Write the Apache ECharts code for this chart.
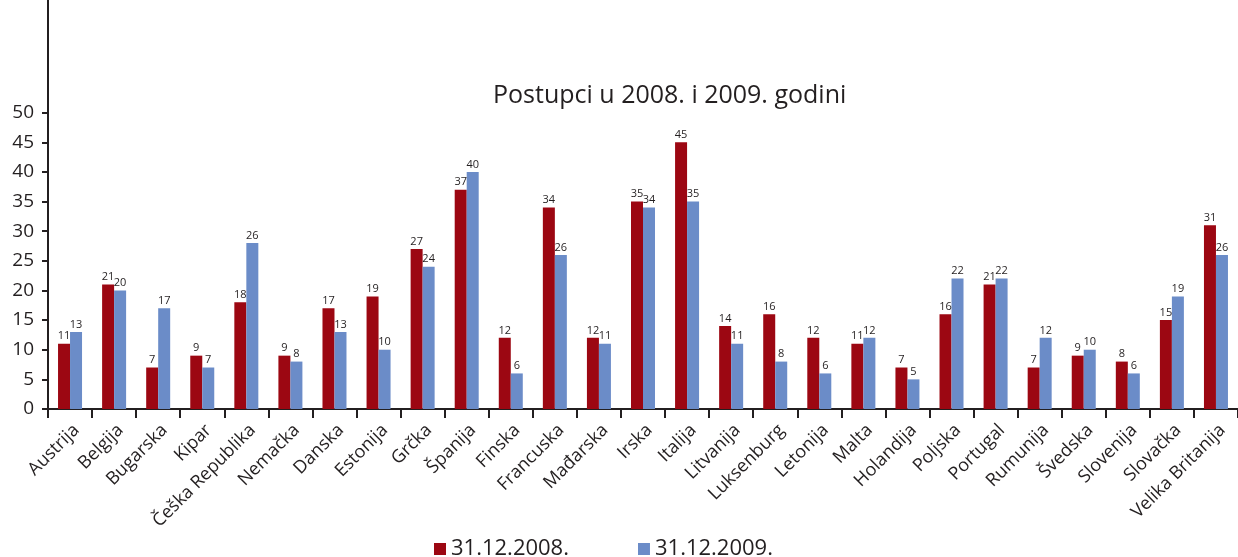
<!DOCTYPE html>
<html>
<head>
<meta charset="utf-8">
<script src="https://cdn.jsdelivr.net/npm/echarts@6/dist/echarts.min.js"></script>
<style>html,body{margin:0;padding:0;background:#fff}#c{width:1238px;height:557px}</style>
</head>
<body>
<div id="c"></div>
<script>
const categories = ['Austrija','Belgija','Bugarska','Kipar','Češka Republika','Nemačka','Danska','Estonija','Grčka','Španija','Finska','Francuska','Mađarska','Irska','Italija','Litvanija','Luksenburg','Letonija','Malta','Holandija','Poljska','Portugal','Rumunija','Švedska','Slovenija','Slovačka','Velika Britanija'];
const values2008 = [11,21,7,9,18,9,17,19,27,37,12,34,12,35,45,14,16,12,11,7,16,21,7,9,8,15,31];
const values2009 = [13,20,17,7,28,8,13,10,24,40,6,26,11,34,35,11,8,6,12,5,22,22,12,10,6,19,26];
const labels2009 = [13,20,17,7,26,8,13,10,24,40,6,26,11,34,35,11,8,6,12,5,22,22,12,10,6,19,26];
const yTicks = [0,5,10,15,20,25,30,35,40,45,50];
const seriesNames = ['31.12.2008.','31.12.2009.'];

const FONT = 'Open Sans';
const TXT = '#231f20';
const chart = echarts.init(document.getElementById('c'), null, {renderer:'canvas'});
chart.setOption({
  animation:false,
  title:{text:'Postupci u 2008. i 2009. godini', left:488, top:78, textStyle:{fontFamily:FONT,fontSize:25,fontWeight:'normal',color:TXT}},
  legend:{top:533, left:429, itemWidth:12, itemHeight:12, itemGap:69, icon:'rect',
    textStyle:{fontFamily:FONT,fontSize:22,color:TXT}, data:seriesNames},
  grid:{left:48, right:0, top:0, bottom:148, containLabel:false},
  xAxis:{type:'category', data:categories,
    axisLine:{lineStyle:{color:TXT,width:2}},
    axisTick:{show:true, length:9, lineStyle:{color:TXT,width:2}},
    axisLabel:{rotate:45, interval:0, fontFamily:FONT, fontSize:18, color:TXT, margin:12, verticalAlign:'top'}},
  yAxis:{type:'value', min:0, max:69,
    splitLine:{show:false},
    axisLine:{show:true, lineStyle:{color:TXT,width:2}},
    axisTick:{show:true, length:6, lineStyle:{color:TXT,width:2}, customValues:yTicks},
    axisLabel:{fontFamily:FONT, fontSize:19, color:TXT, margin:14, customValues:yTicks}},
  series:[
    {name:seriesNames[0], type:'bar', data:values2008, barWidth:12, barGap:'0%',
      itemStyle:{color:'#9c0712'},
      label:{show:true, position:'top', distance:2, fontFamily:FONT, fontSize:11, color:TXT}},
    {name:seriesNames[1], type:'bar', data:values2009, barWidth:12, barGap:'0%',
      itemStyle:{color:'#6b8cc8'},
      label:{show:true, position:'top', distance:2, fontFamily:FONT, fontSize:11, color:TXT,
        formatter:p=>String(labels2009[p.dataIndex])}}
  ]
});
</script>
</body>
</html>
